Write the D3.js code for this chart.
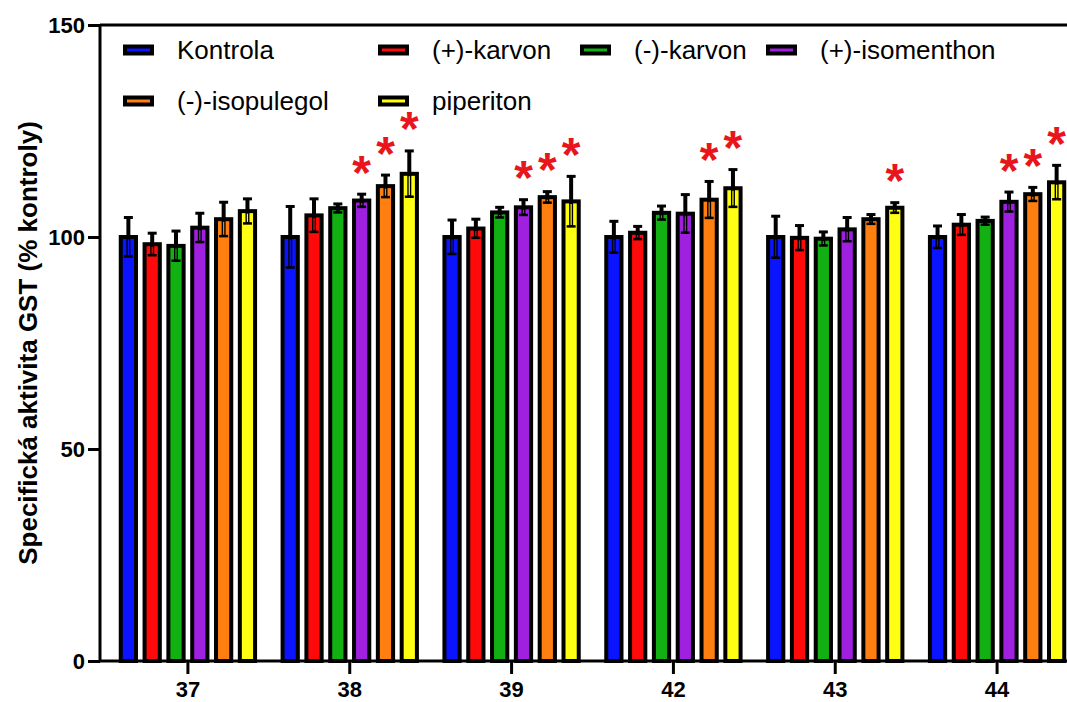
<!DOCTYPE html>
<html>
<head>
<meta charset="utf-8">
<script src="https://cdn.jsdelivr.net/npm/d3@7/dist/d3.min.js"></script>
<style>
  html, body { margin: 0; padding: 0; background: #fff; }
  svg { display: block; font-family: "Liberation Sans", Arial, sans-serif; }
</style>
</head>
<body>
<svg id="chart" width="1067" height="702"></svg>
<script>
// Compounds tested (x groups) and treatment series
const categories = ["37", "38", "39", "42", "43", "44"];
const seriesNames = ["Kontrola", "(+)-karvon", "(-)-karvon", "(+)-isomenthon", "(-)-isopulegol", "piperiton"];
const seriesColors = ["#0a14ff", "#ff0a0a", "#12b012", "#a020e0", "#ff8010", "#ffff14"];

// Mean specific GST activity (% of control) per series, in category order
const kontrola     = [100.0, 100.0, 100.0, 100.0, 100.0, 100.0];
const karvonPlus   = [ 98.3, 105.1, 102.0, 101.0,  99.8, 102.9];
const karvonMinus  = [ 97.9, 106.8, 105.8, 105.7,  99.6, 103.8];
const isomenthon   = [102.2, 108.6, 107.0, 105.5, 101.8, 108.3];
const isopulegol   = [104.2, 112.0, 109.4, 108.8, 104.2, 110.1];
const piperiton    = [106.1, 114.9, 108.4, 111.5, 106.9, 112.9];

// Standard deviations
const kontrolaSd    = [4.6, 7.2, 4.0, 3.7, 4.9, 2.6];
const karvonPlusSd  = [2.6, 3.9, 2.2, 1.5, 2.9, 2.4];
const karvonMinusSd = [3.5, 1.0, 1.2, 1.6, 1.6, 0.9];
const isomenthonSd  = [3.4, 1.5, 1.8, 4.5, 2.8, 2.3];
const isopulegolSd  = [4.0, 2.6, 1.3, 4.3, 1.1, 1.6];
const piperitonSd   = [2.9, 5.4, 5.9, 4.4, 1.2, 4.0];

// Statistically significant difference from control (1 = marked with *)
const kontrolaSig    = [0, 0, 0, 0, 0, 0];
const karvonPlusSig  = [0, 0, 0, 0, 0, 0];
const karvonMinusSig = [0, 0, 0, 0, 0, 0];
const isomenthonSig  = [0, 1, 1, 0, 0, 1];
const isopulegolSig  = [0, 1, 1, 1, 0, 1];
const piperitonSig   = [0, 1, 1, 1, 1, 1];

const yTicks = [0, 50, 100, 150];
const yTitle = "Specifická aktivita GST (% kontroly)";

const means = [kontrola, karvonPlus, karvonMinus, isomenthon, isopulegol, piperiton];
const sds = [kontrolaSd, karvonPlusSd, karvonMinusSd, isomenthonSd, isopulegolSd, piperitonSd];
const sigs = [kontrolaSig, karvonPlusSig, karvonMinusSig, isomenthonSig, isopulegolSig, piperitonSig];

// Flat table of bars
const rows = [];
categories.forEach((c, ci) => {
  seriesNames.forEach((s, si) => {
    rows.push({ cat: c, series: s, color: seriesColors[si], mean: means[si][ci], sd: sds[si][ci], sig: sigs[si][ci] });
  });
});

const svg = d3.select("#chart");
const plotLeft = 100, plotTop = 25, plotBottom = 661, plotRight = 1078;
const font = "'Liberation Sans', Arial, sans-serif";

const y = d3.scaleLinear().domain([0, 150]).range([plotBottom, plotTop]);
const x0 = d3.scaleBand().domain(categories).range([107, plotRight])
  .paddingInner(0.117).paddingOuter(0.0585);
const x1 = d3.scaleBand().domain(seriesNames).range([0, x0.bandwidth()])
  .paddingInner(0.36).paddingOuter(0.18);

// Bars
const g = svg.append("g");
const bar = g.selectAll("g.bar").data(rows).join("g").attr("class", "bar")
  .attr("transform", d => `translate(${x0(d.cat) + x1(d.series)},0)`);

bar.append("rect")
  .attr("x", 0)
  .attr("width", x1.bandwidth())
  .attr("y", d => y(d.mean))
  .attr("height", d => y(0) - y(d.mean))
  .attr("fill", d => d.color)
  .attr("stroke", "#000")
  .attr("stroke-width", 4);

// Error bars (symmetric, drawn through the bar)
const cx = x1.bandwidth() / 2;
const capHalf = 4.5;
bar.append("line")
  .attr("x1", cx).attr("x2", cx)
  .attr("y1", d => y(d.mean - d.sd)).attr("y2", d => y(d.mean + d.sd))
  .attr("stroke", "#000").attr("stroke-width", 4);
bar.append("line")
  .attr("x1", cx).attr("x2", cx)
  .attr("y1", d => y(d.mean) + 2.5).attr("y2", d => y(d.mean - d.sd) - 1.5)
  .attr("stroke", d => d.color).attr("stroke-width", 1.2);
bar.append("line")
  .attr("x1", cx - capHalf).attr("x2", cx + capHalf)
  .attr("y1", d => y(d.mean + d.sd)).attr("y2", d => y(d.mean + d.sd))
  .attr("stroke", "#000").attr("stroke-width", 3);
bar.append("line")
  .attr("x1", cx - capHalf).attr("x2", cx + capHalf)
  .attr("y1", d => y(d.mean - d.sd)).attr("y2", d => y(d.mean - d.sd))
  .attr("stroke", "#000").attr("stroke-width", 2.5);

// Significance asterisks
bar.filter(d => d.sig).append("text")
  .attr("x", cx)
  .attr("text-anchor", "middle")
  .attr("font-size", 48)
  .attr("font-weight", "bold")
  .attr("fill", "#e8161c")
  .text("*")
  .each(function (d) {
    const t = d3.select(this);
    t.attr("y", 0);
    const bb = this.getBBox();
    const target = y(d.mean + d.sd) - 22;
    t.attr("y", target - (bb.y + bb.height / 2));
  });

// Frame: top border and axes
svg.append("line").attr("x1", plotLeft).attr("x2", 1067).attr("y1", plotTop).attr("y2", plotTop)
  .attr("stroke", "#000").attr("stroke-width", 3);

const yAxis = svg.append("g").attr("transform", `translate(${plotLeft},0)`)
  .call(d3.axisLeft(y).tickValues(yTicks).tickSize(12).tickPadding(3).tickFormat(d3.format("d")));
yAxis.attr("font-size", 22).attr("font-family", font);
yAxis.select(".domain").attr("stroke-width", 3).attr("d", `M0,${plotTop}V${plotBottom}`);
yAxis.selectAll(".tick line").attr("stroke-width", 3);
yAxis.selectAll(".tick text").attr("font-weight", "bold").attr("fill", "#000");

const xAxis = svg.append("g").attr("transform", `translate(0,${plotBottom})`)
  .call(d3.axisBottom(x0).tickSize(13).tickPadding(7));
xAxis.attr("font-size", 22).attr("font-family", font);
xAxis.select(".domain").attr("stroke-width", 3).attr("d", `M${plotLeft},0H1067`);
xAxis.selectAll(".tick line").attr("stroke-width", 3);
xAxis.selectAll(".tick text").attr("font-weight", "bold").attr("fill", "#000");

// Y axis title
svg.append("text")
  .attr("transform", `translate(37,${(plotTop + plotBottom) / 2}) rotate(-90)`)
  .attr("text-anchor", "middle")
  .attr("font-size", 26)
  .attr("font-weight", "bold")
  .text(yTitle);

// Legend
const legendCols = [123, 378, 580, 766];
const legendRows = [50, 101];
const legend = svg.append("g");
seriesNames.forEach((s, i) => {
  const col = i < 4 ? i : i - 4;
  const row = i < 4 ? 0 : 1;
  const lx = legendCols[col], ly = legendRows[row];
  legend.append("rect")
    .attr("x", lx + 2).attr("y", ly - 3.5)
    .attr("width", 27).attr("height", 7)
    .attr("fill", seriesColors[i]).attr("stroke", "#000").attr("stroke-width", 4);
  legend.append("text")
    .attr("x", lx + 54).attr("y", ly + 9)
    .attr("font-size", 26)
    .text(s);
});
</script>
</body>
</html>
